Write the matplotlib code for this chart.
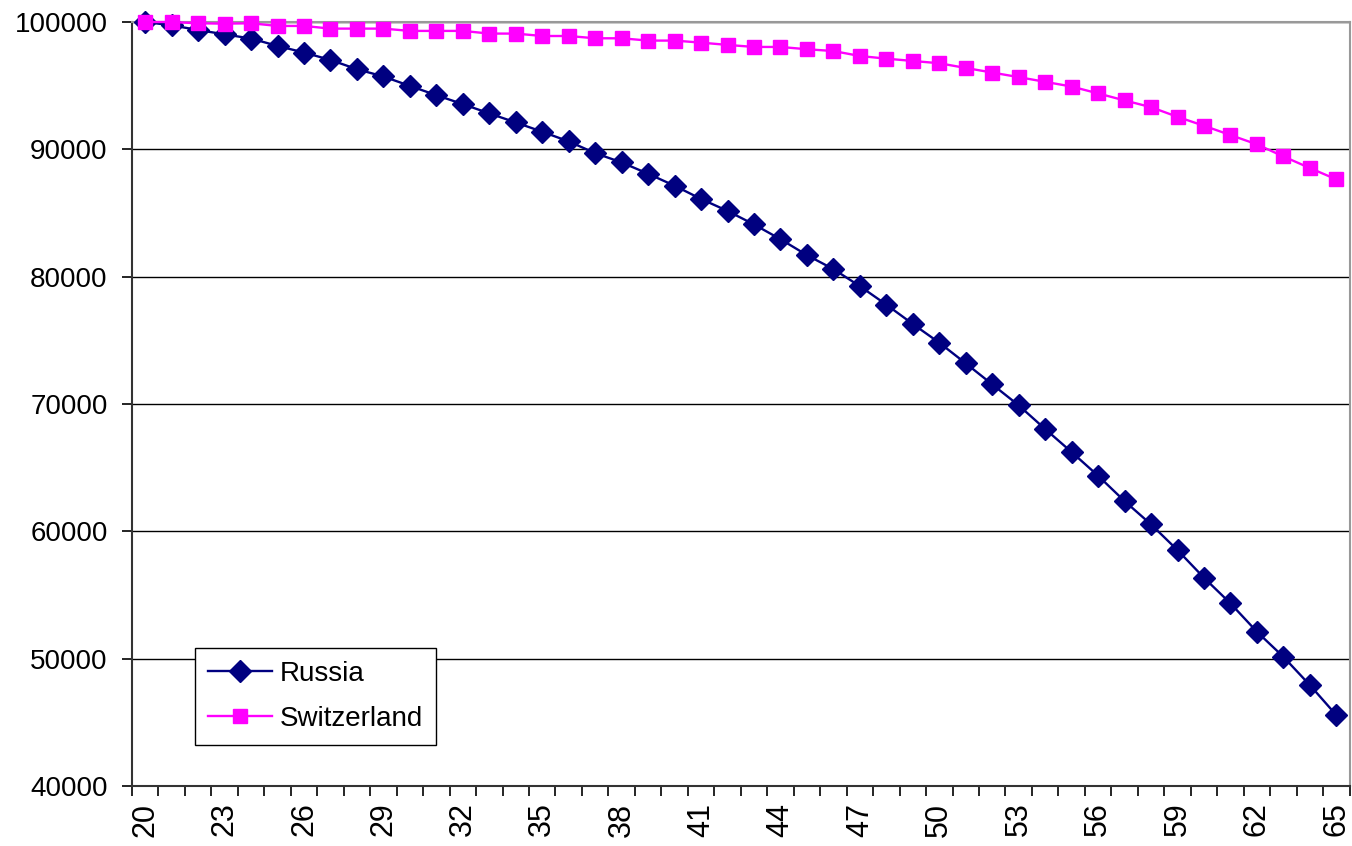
import numpy as np
import matplotlib
matplotlib.use("Agg")
import matplotlib.pyplot as plt

plt.rcParams['font.family'] = ['Liberation Sans', 'DejaVu Sans']

ages = list(range(20, 66))

russia = [100000, 99740, 99370, 99030, 98700, 98120, 97600, 97020, 96290, 95720,
          94980, 94250, 93550, 92820, 92110, 91380, 90620, 89700, 88970, 88080,
          87140, 86100, 85160, 84100, 82940, 81690, 80590, 79250, 77800, 76280,
          74810, 73190, 71540, 69890, 68030, 66220, 64360, 62370, 60540, 58520,
          56350, 54340, 52110, 50140, 47920, 45560]

switzerland = [100000, 100000, 99900, 99870, 99900, 99690, 99690, 99480, 99480, 99480,
               99300, 99300, 99300, 99090, 99090, 98900, 98900, 98720, 98720, 98540,
               98540, 98380, 98200, 98040, 98040, 97860, 97720, 97330, 97120, 96940,
               96760, 96390, 96030, 95670, 95300, 94930, 94390, 93840, 93310, 92550,
               91850, 91120, 90390, 89440, 88530, 87640]

y_ticks = [40000, 50000, 60000, 70000, 80000, 90000, 100000]
x_labels = list(range(20, 66, 3))

fig = plt.figure(figsize=(13.52, 8.46), dpi=100)
ax = fig.add_axes([0.0976, 0.071, 0.9006, 0.903])

ax.plot(ages, russia, color="#000080", lw=1.7, marker="D", markersize=11,
        label="Russia", clip_on=False, zorder=3)
ax.plot(ages, switzerland, color="#FF00FF", lw=1.7, marker="s", markersize=10,
        label="Switzerland", clip_on=False, zorder=3)

ax.set_xlim(19.5, 65.5)
ax.set_ylim(40000, 100000)

# y axis
ax.set_yticks(y_ticks)
ax.set_yticklabels([str(v) for v in y_ticks])
ax.yaxis.grid(True, color="black", lw=1.0)
ax.set_axisbelow(True)
ax.tick_params(axis="y", length=7.5, width=1.2, labelsize=20, pad=10)

# x axis: ticks between categories, labels every third category
ax.set_xticks(np.arange(19.5, 66, 1))
ax.set_xticklabels([])
ax.set_xticks(x_labels, minor=True)
ax.set_xticklabels([str(v) for v in x_labels], minor=True, rotation=90)
ax.tick_params(axis="x", which="major", length=7, width=1.2)
ax.tick_params(axis="x", which="minor", length=0, labelsize=22, pad=12)

for side in ["left", "bottom"]:
    ax.spines[side].set_color("#333333")
    ax.spines[side].set_linewidth(1.5)
for side in ["top", "right"]:
    ax.spines[side].set_color("#999999")
    ax.spines[side].set_linewidth(1.5)

leg = ax.legend(loc="lower left", bbox_to_anchor=(0.052, 0.054), borderaxespad=0,
                fontsize=20, fancybox=False, framealpha=1, edgecolor="black",
                handlelength=2.3, handletextpad=0.3, borderpad=0.45,
                labelspacing=0.7)
leg.get_frame().set_linewidth(1.0)

fig.savefig("out.png", dpi=100, facecolor="white")
